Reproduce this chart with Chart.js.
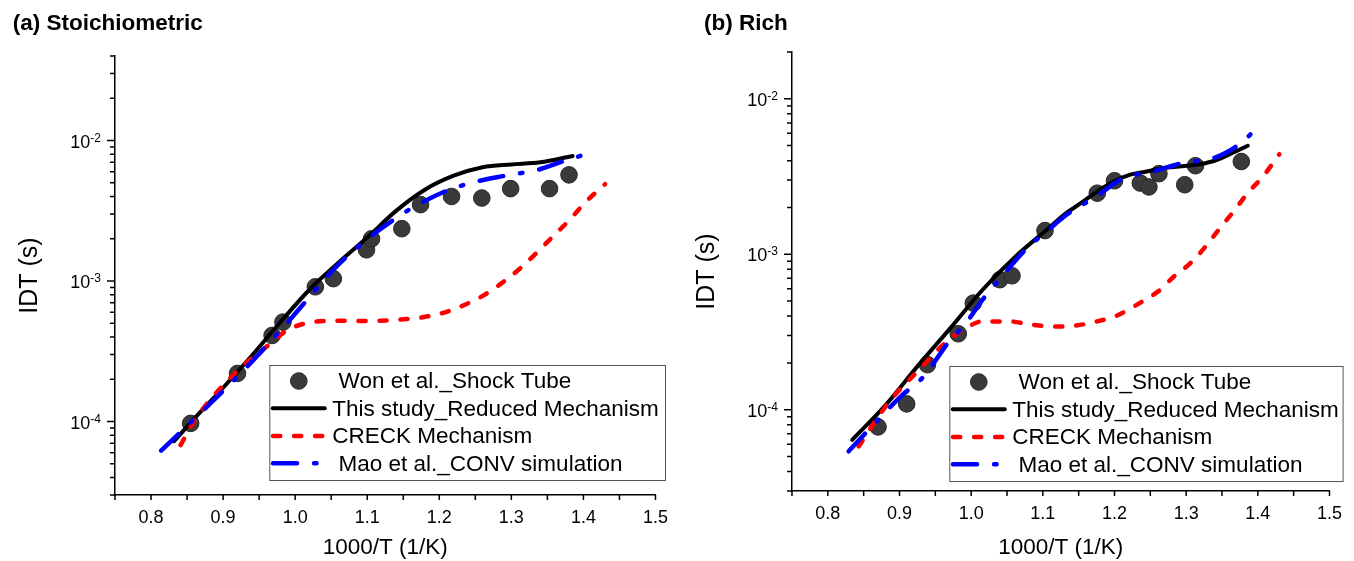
<!DOCTYPE html>
<html>
<head>
<meta charset="utf-8">
<title>IDT comparison</title>
<script src="https://cdn.jsdelivr.net/npm/chart.js@4.4.1/dist/chart.umd.min.js"></script>
<style>
  body { margin: 0; background: #fff; }
  #wrap { position: relative; width: 1354px; height: 561px; overflow: hidden; }
  canvas { position: absolute; top: 0; }
  .panel-title {
    position: absolute; top: 12.4px;
    font: bold 22.5px 'Liberation Sans', Arial, sans-serif;
    line-height: 22.5px; white-space: nowrap; color: #000;
  }
</style>
</head>
<body>
<div id="wrap">
  <canvas id="stoich" width="680" height="561" style="left:0"></canvas>
  <canvas id="rich" width="677" height="561" style="left:677px"></canvas>
  <div class="panel-title" style="left:12.7px">(a) Stoichiometric</div>
  <div class="panel-title" style="left:704px">(b) Rich</div>
</div>
<script>
// tick labels
const xTickLabels = ['0.8', '0.9', '1.0', '1.1', '1.2', '1.3', '1.4', '1.5'];
const yDecades = [-4, -3, -2];

const seriesLabels = [' Won et al._Shock Tube', 'This study_Reduced Mechanism', 'CRECK Mechanism', ' Mao et al._CONV simulation'];

// (a) Stoichiometric
const stWonX = [0.855, 0.920, 0.968, 0.983, 1.028, 1.053, 1.099, 1.106, 1.148, 1.174, 1.217, 1.259, 1.299, 1.353, 1.380];
const stWonY = [9.7e-5, 2.2e-4, 4.1e-4, 5.1e-4, 9.1e-4, 1.04e-3, 1.67e-3, 2.0e-3, 2.36e-3, 3.5e-3, 4.0e-3, 3.9e-3, 4.55e-3, 4.55e-3, 5.7e-3];
const stThisX = [0.832, 0.86, 0.90, 0.94, 0.98, 1.02, 1.06, 1.10, 1.14, 1.18, 1.22, 1.26, 1.30, 1.34, 1.385];
const stThisY = [7.24e-5, 1.05e-4, 1.74e-4, 2.95e-4, 5.13e-4, 8.71e-4, 1.35e-3, 2.04e-3, 3.16e-3, 4.47e-3, 5.62e-3, 6.46e-3, 6.76e-3, 7.0e-3, 7.76e-3];
const stCreckX = [0.841, 0.861, 0.92, 0.966, 0.989, 1.02, 1.057, 1.102, 1.148, 1.175, 1.207, 1.234, 1.262, 1.289, 1.312, 1.334, 1.357, 1.380, 1.403, 1.43];
const stCreckY = [6.8e-5, 1.03e-4, 2.3e-4, 3.6e-4, 4.47e-4, 5.07e-4, 5.21e-4, 5.2e-4, 5.33e-4, 5.5e-4, 5.97e-4, 6.73e-4, 7.94e-4, 9.87e-4, 1.23e-3, 1.57e-3, 2.06e-3, 2.7e-3, 3.65e-3, 4.9e-3];
const stMaoX = [0.814, 0.87, 0.92, 0.98, 1.02, 1.052, 1.098, 1.145, 1.168, 1.211, 1.252, 1.293, 1.337, 1.375, 1.40];
const stMaoY = [6.2e-5, 1.17e-4, 2.09e-4, 4.47e-4, 7.7e-4, 1.19e-3, 1.95e-3, 2.92e-3, 3.45e-3, 4.41e-3, 5.12e-3, 5.64e-3, 6.2e-3, 7.21e-3, 7.9e-3];

// (b) Rich
const riWonX = [0.870, 0.910, 0.939, 0.982, 1.003, 1.040, 1.057, 1.103, 1.176, 1.200, 1.236, 1.248, 1.262, 1.298, 1.313, 1.377];
const riWonY = [7.75e-5, 1.09e-4, 1.95e-4, 3.08e-4, 4.85e-4, 6.86e-4, 7.27e-4, 1.42e-3, 2.47e-3, 2.97e-3, 2.87e-3, 2.71e-3, 3.3e-3, 2.8e-3, 3.71e-3, 3.95e-3];
const riThisX = [0.834, 0.879, 0.925, 0.971, 1.016, 1.062, 1.108, 1.130, 1.153, 1.176, 1.199, 1.222, 1.245, 1.267, 1.313, 1.336, 1.359, 1.386];
const riThisY = [6.4e-5, 1.05e-4, 1.9e-4, 3.35e-4, 5.91e-4, 9.68e-4, 1.47e-3, 1.8e-3, 2.13e-3, 2.54e-3, 2.94e-3, 3.25e-3, 3.41e-3, 3.58e-3, 3.76e-3, 3.95e-3, 4.36e-3, 4.99e-3];
const riCreckX = [0.843, 0.866, 0.888, 0.925, 0.966, 0.989, 1.016, 1.053, 1.085, 1.121, 1.144, 1.176, 1.206, 1.235, 1.261, 1.283, 1.306, 1.327, 1.347, 1.366, 1.386, 1.407, 1.43];
const riCreckY = [5.8e-5, 8.4e-5, 1.16e-4, 1.76e-4, 2.75e-4, 3.27e-4, 3.7e-4, 3.7e-4, 3.52e-4, 3.43e-4, 3.47e-4, 3.7e-4, 4.08e-4, 4.85e-4, 5.77e-4, 7.2e-4, 8.77e-4, 1.12e-3, 1.47e-3, 1.88e-3, 2.48e-3, 3.16e-3, 4.4e-3];
const riMaoX = [0.829, 0.870, 0.902, 0.934, 0.971, 0.989, 1.016, 1.039, 1.080, 1.103, 1.130, 1.174, 1.213, 1.254, 1.295, 1.338, 1.363, 1.384, 1.404];
const riMaoY = [5.4e-5, 8.6e-5, 1.22e-4, 1.64e-4, 2.82e-4, 3.43e-4, 5.1e-4, 6.86e-4, 1.12e-3, 1.37e-3, 1.75e-3, 2.35e-3, 3.09e-3, 3.41e-3, 3.86e-3, 4.15e-3, 4.7e-3, 5.58e-3, 6.9e-3];

const FONT = "'Liberation Sans', Arial, sans-serif";
Chart.defaults.font.family = FONT;
Chart.defaults.color = '#000';

const pts = (xs, ys) => xs.map((x, i) => ({ x: x, y: ys[i] }));

// tick marks + "10^n" labels, drawn from the scales
const axisDecor = {
  id: 'axisDecor',
  afterDraw(chart) {
    const ctx = chart.ctx;
    const xs = chart.scales.x, ys = chart.scales.y;
    const a = chart.chartArea;
    ctx.save();
    ctx.strokeStyle = '#000';
    ctx.lineWidth = 1.5;
    ctx.beginPath();
    xs.ticks.forEach(t => {
      const px = xs.getPixelForValue(t.value);
      ctx.moveTo(px, a.bottom);
      ctx.lineTo(px, a.bottom + 5);
    });
    ys.ticks.forEach(t => {
      const e = Math.floor(Math.log10(t.value) + 1e-9);
      const m = t.value / Math.pow(10, e);
      if (Math.abs(m - Math.round(m)) > 1e-6) return;
      const len = Math.round(m) === 1 ? 8 : 5;
      const py = ys.getPixelForValue(t.value);
      ctx.moveTo(a.left - len, py);
      ctx.lineTo(a.left, py);
    });
    ctx.stroke();

    ctx.fillStyle = '#000';
    ctx.textAlign = 'right';
    yDecades.forEach(e => {
      const v = Math.pow(10, e);
      if (v < ys.min || v > ys.max) return;
      const py = ys.getPixelForValue(v);
      const expText = String(e);
      const right = a.left - 14;
      ctx.font = '12px ' + FONT;
      const ew = ctx.measureText(expText).width;
      ctx.textBaseline = 'alphabetic';
      ctx.fillText(expText, right, py + 1);
      ctx.font = '18px ' + FONT;
      ctx.textBaseline = 'middle';
      ctx.fillText('10', right - ew, py + 2);
    });
    ctx.restore();
  }
};

// framed legend inside the plot
const boxLegend = {
  id: 'boxLegend',
  afterDraw(chart, args, opts) {
    const ctx = chart.ctx;
    const { left, top, width, height, rowOffsets } = opts;
    ctx.save();
    ctx.fillStyle = '#fff';
    ctx.fillRect(left, top, width, height);
    ctx.strokeStyle = '#555';
    ctx.lineWidth = 1;
    ctx.strokeRect(left + 0.5, top + 0.5, width, height);
    chart.data.datasets.forEach((ds, i) => {
      const y = top + rowOffsets[i];
      const x0 = left + 1.5, x1 = left + 57.5;
      if (ds.showLine === false) {
        ctx.beginPath();
        ctx.arc((x0 + x1) / 2, y, ds.pointRadius, 0, Math.PI * 2);
        ctx.fillStyle = ds.pointBackgroundColor;
        ctx.fill();
        ctx.lineWidth = ds.pointBorderWidth;
        ctx.strokeStyle = ds.pointBorderColor;
        ctx.stroke();
      } else {
        const lw = ds.borderWidth;
        ctx.setLineDash(ds.borderDash || []);
        ctx.lineDashOffset = 0;
        ctx.lineWidth = lw;
        ctx.strokeStyle = ds.borderColor;
        ctx.lineCap = 'round';
        ctx.beginPath();
        ctx.moveTo(x0 + lw / 2, y);
        ctx.lineTo(x1 - lw / 2, y);
        ctx.stroke();
        ctx.setLineDash([]);
      }
      ctx.fillStyle = '#000';
      ctx.font = '22.5px ' + FONT;
      ctx.textAlign = 'left';
      ctx.textBaseline = 'middle';
      ctx.fillText(ds.label, left + 63, y + 1);
    });
    ctx.restore();
  }
};

function xLabel(value) {
  const hit = xTickLabels.find(l => Math.abs(parseFloat(l) - value) < 1e-6);
  return hit === undefined ? '' : hit;
}

function buildChart(id, s, yMax, geo, legendCfg) {
  const lineBase = { showLine: true, pointRadius: 0, cubicInterpolationMode: 'monotone', borderCapStyle: 'round', borderJoinStyle: 'round' };
  return new Chart(document.getElementById(id), {
    type: 'scatter',
    data: {
      datasets: [
        { label: seriesLabels[0], data: pts(s.wonX, s.wonY), showLine: false, pointRadius: 8.3,
          pointBackgroundColor: '#3a3a3a', pointBorderColor: '#262626', pointBorderWidth: 1, order: 3 },
        Object.assign({ label: seriesLabels[1], data: pts(s.thisX, s.thisY), borderColor: '#000000', borderWidth: 4, order: 2 }, lineBase),
        Object.assign({ label: seriesLabels[2], data: pts(s.creckX, s.creckY), borderColor: '#ff0000', borderWidth: 4.5, borderDash: [7.2, 13.8], order: 1 }, lineBase),
        Object.assign({ label: seriesLabels[3], data: pts(s.maoX, s.maoY), borderColor: '#0000ff', borderWidth: 4.5, borderDash: [24, 17, 2.5, 17], order: 0 }, lineBase)
      ]
    },
    options: {
      responsive: false,
      animation: false,
      devicePixelRatio: 1,
      layout: { padding: { left: 0, right: geo.padRight, top: geo.padTop, bottom: 0 } },
      plugins: {
        legend: { display: false },
        tooltip: { enabled: false },
        boxLegend: legendCfg
      },
      scales: {
        x: {
          type: 'linear', min: 0.75, max: 1.5,
          afterFit: sc => { sc.height = geo.xHeight; },
          ticks: { stepSize: 0.05, autoSkip: false, maxRotation: 0, padding: 12, color: '#000', font: { size: 18 }, callback: xLabel },
          grid: { display: false, drawTicks: false },
          border: { display: true, color: '#000', width: 1.5 },
          title: { display: true, text: '1000/T (1/K)', color: '#000', font: { size: 22.5 }, padding: { top: 0, bottom: 0 } }
        },
        y: {
          type: 'logarithmic', min: 3e-5, max: yMax,
          afterFit: sc => { sc.width = 115; },
          ticks: { display: false },
          grid: { display: false, drawTicks: false },
          border: { display: true, color: '#000', width: 1.5 },
          title: { display: true, text: 'IDT (s)', color: '#000', font: { size: 25 }, padding: { top: 15, bottom: 0 } }
        }
      }
    },
    plugins: [axisDecor, boxLegend]
  });
}

buildChart('stoich',
  { wonX: stWonX, wonY: stWonY, thisX: stThisX, thisY: stThisY, creckX: stCreckX, creckY: stCreckY, maoX: stMaoX, maoY: stMaoY },
  0.04,
  { padRight: 15, padTop: 56, xHeight: 66 },
  { left: 269.3, top: 365, width: 395.7, height: 115, rowOffsets: [16, 43.3, 71, 98.3] });

buildChart('rich',
  { wonX: riWonX, wonY: riWonY, thisX: riThisX, thisY: riThisY, creckX: riCreckX, creckY: riCreckY, maoX: riMaoX, maoY: riMaoY },
  0.02,
  { padRight: 14, padTop: 52, xHeight: 70 },
  { left: 272.3, top: 366, width: 393.3, height: 115, rowOffsets: [16, 43.3, 71, 98.3] });
</script>
</body>
</html>
